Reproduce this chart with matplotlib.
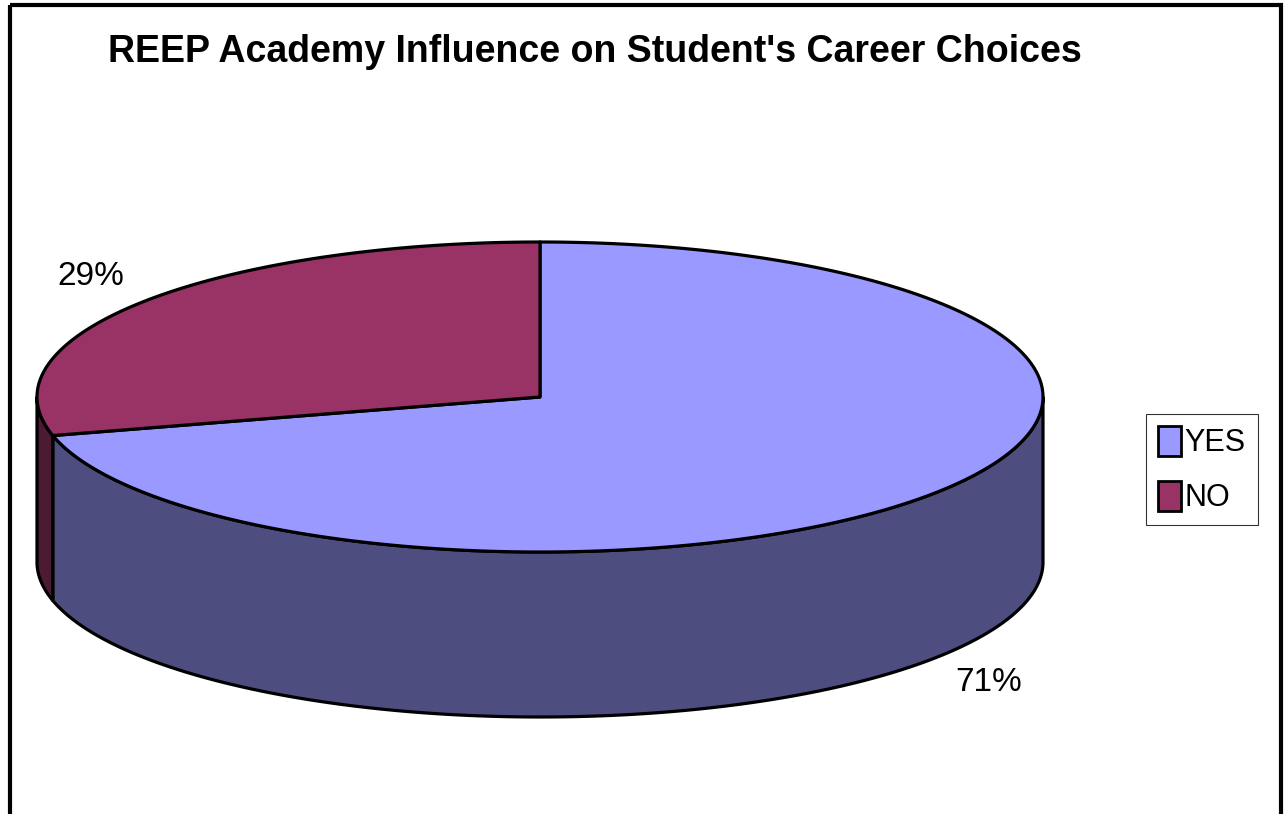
import numpy as np
import matplotlib
matplotlib.use("Agg")
import matplotlib.pyplot as plt
from matplotlib import font_manager
from matplotlib.patches import Polygon, Rectangle, Patch

# data
labels = ["YES", "NO"]
values = [71, 29]
top_colors = ["#9999FF", "#993366"]
side_colors = ["#4D4D80", "#4D1A33"]
title = "REEP Academy Influence on Student's Career Choices"

# pick a narrow font if there is one
try:
    font_manager.findfont("Liberation Sans Narrow", fallback_to_default=False)
    fam = "Liberation Sans Narrow"
except Exception:
    fam = "Liberation Sans"
plt.rcParams["font.family"] = [fam, "DejaVu Sans"]

W, H = 1285, 814
fig = plt.figure(figsize=(W / 100, H / 100), dpi=100)
ax = fig.add_axes([0, 0, 1, 1])
ax.set_xlim(0, W)
ax.set_ylim(H, 0)
ax.axis("off")

# pie geometry (pixels)
cx, cy = 540, 397
a, b = 503, 155
depth = 165


def pt(t):
    return cx + a * np.cos(np.radians(t)), cy - b * np.sin(np.radians(t))


# angles: start at 12 o'clock, clockwise
fracs = np.array(values, dtype=float) / sum(values)
starts = 90 - 360 * np.concatenate([[0], np.cumsum(fracs)[:-1]])
ends = starts - 360 * fracs

# side walls (front half only: 180..360 deg)
for s, e, c in zip(starts, ends, side_colors):
    lo, hi = e, s
    for shift in (0, 360, -360):
        l2, h2 = max(lo + shift, 180), min(hi + shift, 360)
        if h2 > l2:
            t = np.linspace(l2, h2, 200)
            xs, ys = pt(t)
            px = np.concatenate([xs, xs[::-1]])
            py = np.concatenate([ys, ys[::-1] + depth])
            ax.add_patch(Polygon(np.column_stack([px, py]), closed=True,
                                 facecolor=c, edgecolor="black", lw=2.3,
                                 joinstyle="round"))

# top faces
for s, e, c in zip(starts, ends, top_colors):
    t = np.linspace(e, s, 400)
    xs, ys = pt(t)
    px = np.concatenate([[cx], xs])
    py = np.concatenate([[cy], ys])
    ax.add_patch(Polygon(np.column_stack([px, py]), closed=True,
                         facecolor=c, edgecolor="black", lw=2.3,
                         joinstyle="round"))

# percent labels
for s, e, v in zip(starts, ends, values):
    m = np.radians((s + e) / 2)
    lx = cx + a * 1.13 * np.cos(m)
    ly = cy - b * 1.27 * np.sin(m)
    if np.sin(m) < 0:
        ly += depth
    ax.text(lx, ly, f"{v}%", ha="center", va="center", fontsize=24)

# title
ax.text(595, 52, title, ha="center", va="center", fontsize=27,
        fontweight="bold")

# chart frame
ax.add_patch(Rectangle((10, 5), 1271, 830, fill=False, edgecolor="black",
                       lw=3, clip_on=False))

handles = [Patch(facecolor=c, edgecolor="black", lw=2) for c in top_colors]
leg = ax.legend(handles, labels, loc="upper left",
                bbox_to_anchor=(1146 / W, 1 - 414 / H), fontsize=22,
                frameon=True, fancybox=False, borderaxespad=0,
                handlelength=0.75, handleheight=1.1, handletextpad=0.1,
                labelspacing=0.75, borderpad=0.4)
leg.get_frame().set_edgecolor("black")
leg.get_frame().set_linewidth(0.8)

fig.savefig("out.png", dpi=100)
